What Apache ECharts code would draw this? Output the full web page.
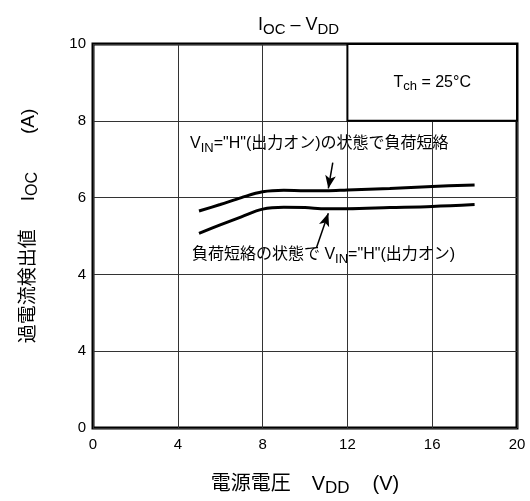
<!DOCTYPE html>
<html>
<head>
<meta charset="utf-8">
<script src="https://cdn.jsdelivr.net/npm/echarts@6/dist/echarts.min.js"></script>
<style>
  html, body { margin: 0; padding: 0; background: #fff; }
  #chart { width: 530px; height: 501px; }
</style>
</head>
<body>
<div id="chart"></div>
<script>
// 電源電圧 VDD (V)
const vdd = [5, 6, 7, 8, 9, 10, 11, 12, 14, 16, 18];
// VIN="H"(出力オン)の状態で負荷短絡
const iocOnThenShort = [5.65, 5.82, 6.0, 6.15, 6.19, 6.18, 6.18, 6.2, 6.24, 6.29, 6.33];
// 負荷短絡の状態で VIN="H"(出力オン)
const iocShortThenOn = [5.07, 5.29, 5.5, 5.7, 5.75, 5.74, 5.71, 5.71, 5.74, 5.77, 5.82];
// y tick labels as printed in the original (second one reads "4")
const yTickLabels = ['0', '4', '4', '6', '8', '10'];
const xTickLabels = ['0', '4', '8', '12', '16', '20'];

const font = '"Liberation Sans", Arial, "Noto Sans CJK JP", sans-serif';

function pairs(xs, ys) {
  return xs.map((x, i) => [x, ys[i]]);
}

// n = normal text, s = subscript, g1/g2 = fixed gaps
function richSub(size, gap1, gap2) {
  return {
    n: { fontSize: size, lineHeight: size + 6, fontFamily: font, color: '#000', fontWeight: 'normal', verticalAlign: 'middle' },
    s: { fontSize: size - 3, lineHeight: size - 3, fontFamily: font, color: '#000', fontWeight: 'normal', verticalAlign: 'bottom' },
    g1: { fontSize: size, width: gap1 || 0 },
    g2: { fontSize: size, width: gap2 || 0 }
  };
}

const chart = echarts.init(document.getElementById('chart'));
const option = {
  animation: false,
  backgroundColor: '#fff',
  title: {
    text: '{n|I}{s|OC}{n| – V}{s|DD}',
    left: 253,
    top: 8,
    textStyle: { rich: richSub(18) }
  },
  grid: {
    left: 93, right: 13, top: 44, bottom: 73,
    outerBoundsMode: 'none',
    show: true, borderColor: '#000', borderWidth: 3
  },
  xAxis: {
    type: 'value', min: 0, max: 20, interval: 4,
    axisLine: { show: false },
    axisTick: { show: false },
    splitLine: { lineStyle: { color: '#333', width: 1 } },
    axisLabel: {
      margin: 9, fontSize: 15, color: '#000', fontFamily: font,
      formatter: v => xTickLabels[v / 4]
    },
    name: '{n|電源電圧}{g1| }{n|V}{s|DD}{g2| }{n|(V)}',
    nameLocation: 'middle',
    nameGap: 43,
    nameTextStyle: { rich: richSub(20, 21, 23) }
  },
  yAxis: {
    type: 'value', min: 0, max: 10, interval: 2,
    axisLine: { show: false },
    axisTick: { show: false },
    splitLine: { lineStyle: { color: '#333', width: 1 } },
    axisLabel: {
      margin: 7, fontSize: 15, color: '#000', fontFamily: font,
      formatter: v => yTickLabels[v / 2]
    },
    name: '{n|過電流検出値}{g1| }{n|I}{s|OC}{g2| }{n|(A)}',
    nameLocation: 'middle',
    nameRotate: 90,
    nameGap: 52,
    nameTextStyle: { rich: richSub(19, 28, 38), padding: [0, 0, 0, 20] }
  },
  graphic: [
    {
      type: 'text', left: 190, top: 136, silent: true,
      style: {
        text: '{n|V}{s|IN}{n|="H"(出力オン)の状態で負荷短絡}',
        rich: richSub(16)
      }
    },
    {
      type: 'text', left: 192, top: 247, silent: true,
      style: {
        text: '{n|負荷短絡の状態で V}{s|IN}{n|="H"(出力オン)}',
        rich: richSub(16)
      }
    }
  ],
  series: [
    {
      name: 'on-then-short',
      type: 'line',
      data: pairs(vdd, iocOnThenShort),
      smooth: 0.35,
      showSymbol: false,
      lineStyle: { color: '#000', width: 3 },
      z: 3,
      markArea: {
        silent: true,
        itemStyle: { color: '#fff', borderColor: '#000', borderWidth: 2 },
        label: {
          position: 'inside',
          formatter: '{n|T}{s|ch}{n| = 25°C}',
          rich: richSub(16)
        },
        data: [[{ coord: [12, 8] }, { coord: [20, 10] }]]
      },
      markLine: {
        silent: true,
        symbol: ['none', 'arrow'],
        symbolSize: [8, 13],
        label: { show: false },
        lineStyle: { color: '#000', width: 1.5, type: 'solid' },
        data: [
          [{ coord: [11.31, 6.91] }, { coord: [11.1, 6.24] }],
          [{ coord: [10.55, 4.71] }, { coord: [11.1, 5.59] }]
        ]
      }
    },
    {
      name: 'short-then-on',
      type: 'line',
      data: pairs(vdd, iocShortThenOn),
      smooth: 0.35,
      showSymbol: false,
      lineStyle: { color: '#000', width: 3 },
      z: 3
    }
  ]
};
chart.setOption(option);
</script>
</body>
</html>
